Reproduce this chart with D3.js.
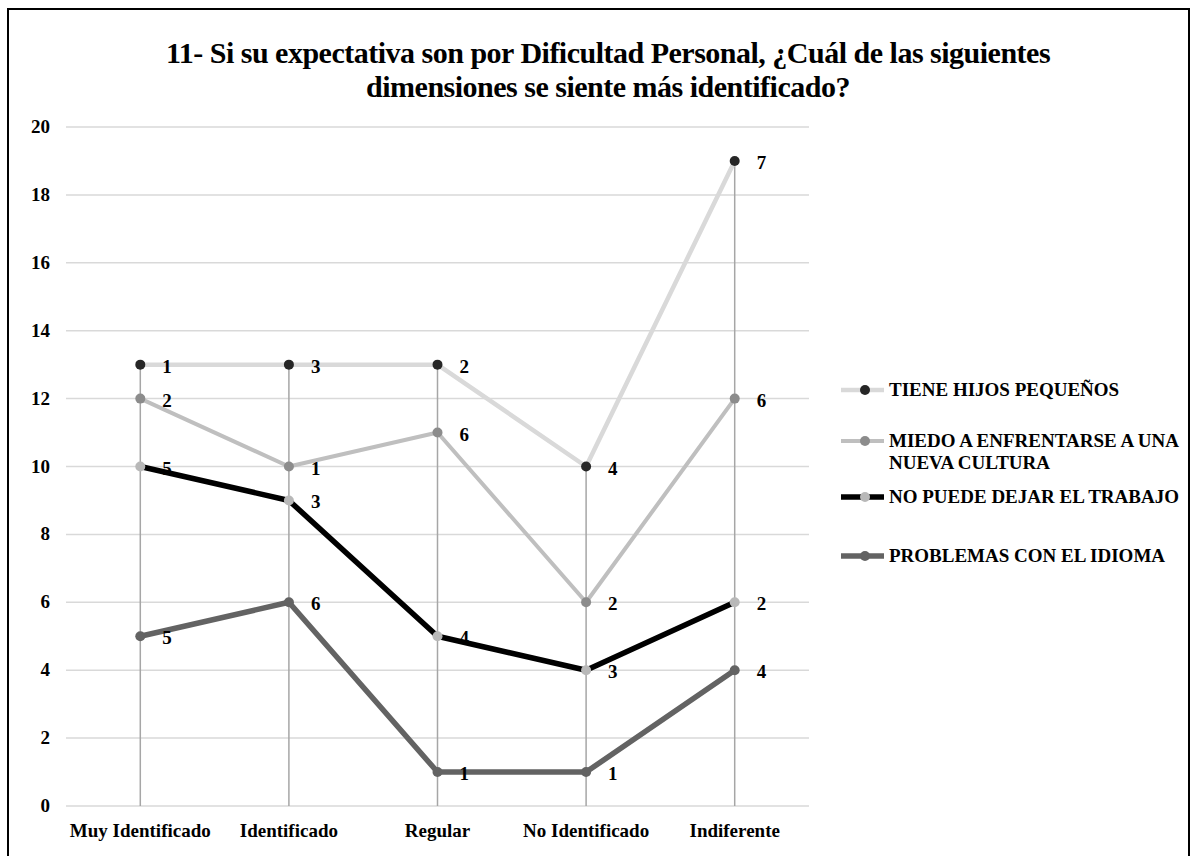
<!DOCTYPE html>
<html><head><meta charset="utf-8">
<script src="https://cdn.jsdelivr.net/npm/d3@7"></script>
<style>body{margin:0;background:#fff}svg{display:block}</style>
</head><body>
<script>
const categories = ["Muy Identificado","Identificado","Regular","No Identificado","Indiferente"];
const seriesNames = ["PROBLEMAS CON EL IDIOMA","NO PUEDE DEJAR EL TRABAJO","MIEDO A ENFRENTARSE A UNA NUEVA CULTURA","TIENE HIJOS PEQUEÑOS"];
const problemasIdioma = [5,6,1,1,4];
const noPuedeDejarTrabajo = [5,3,4,3,2];
const miedoNuevaCultura = [2,1,6,2,6];
const tieneHijos = [1,3,2,4,7];
const yTicks = [0,2,4,6,8,10,12,14,16,18,20];
const legendOrder = [3,2,1,0];

const FONT = "'Liberation Serif','Times New Roman','DejaVu Serif',serif";
const styles = [
  {line:"#636363", marker:"#636363", w:5.5},
  {line:"#000000", marker:"#b8b8b8", w:5.5},
  {line:"#bfbfbf", marker:"#8c8c8c", w:4},
  {line:"#d9d9d9", marker:"#262626", w:4.5}
];
const legendLines = [["TIENE HIJOS PEQUEÑOS"],["MIEDO A ENFRENTARSE A UNA","NUEVA CULTURA"],["NO PUEDE DEJAR EL TRABAJO"],["PROBLEMAS CON EL IDIOMA"]];

const W=1196,H=856;
const svg=d3.select("body").append("svg").attr("width",W).attr("height",H)
  .attr("font-family",FONT).attr("font-weight","bold");
svg.append("rect").attr("x",8).attr("y",9).attr("width",1181).attr("height",870).attr("fill","#fff").attr("stroke","#000").attr("stroke-width",2);

svg.append("text").attr("x",608).attr("y",63).attr("text-anchor","middle").attr("font-size",30).attr("letter-spacing",-0.5).text("11- Si su expectativa son por Dificultad Personal, ¿Cuál de las siguientes");
svg.append("text").attr("x",608).attr("y",97).attr("text-anchor","middle").attr("font-size",30).attr("letter-spacing",-0.5).text("dimensiones se siente más identificado?");

const x=d3.scaleBand().domain(categories).range([66,809]);
const y=d3.scaleLinear().domain([0,20]).range([806,127]);

const table=categories.map((c,i)=>({cat:c,s0:problemasIdioma[i],s1:noPuedeDejarTrabajo[i],s2:miedoNuevaCultura[i],s3:tieneHijos[i]}));
const stacked=d3.stack().keys(["s0","s1","s2","s3"])(table);

svg.append("g").selectAll("line").data(yTicks).join("line")
  .attr("x1",66).attr("x2",809).attr("y1",d=>y(d)).attr("y2",d=>y(d))
  .attr("stroke","#d9d9d9").attr("stroke-width",1.5);
svg.append("g").selectAll("text").data(yTicks).join("text")
  .attr("x",50).attr("y",d=>y(d)+6).attr("text-anchor","end").attr("font-size",19).text(d=>d);
svg.append("g").selectAll("text").data(categories).join("text")
  .attr("x",d=>x(d)+x.bandwidth()/2).attr("y",837).attr("text-anchor","middle").attr("font-size",19).text(d=>d);

const cx=d=>x(d.data.cat)+x.bandwidth()/2;
svg.append("g").selectAll("line").data(stacked[3]).join("line")
  .attr("x1",cx).attr("x2",cx).attr("y1",d=>y(d[1])).attr("y2",y(0))
  .attr("stroke","#a6a6a6").attr("stroke-width",1.5);

const line=d3.line().x(cx).y(d=>y(d[1]));
stacked.forEach((s,i)=>{
  const st=styles[i];
  svg.append("path").datum(s).attr("d",line).attr("fill","none").attr("stroke",st.line).attr("stroke-width",st.w).attr("stroke-linejoin","round");
  svg.append("g").selectAll("circle").data(s).join("circle").attr("cx",cx).attr("cy",d=>y(d[1])).attr("r",5).attr("fill",st.marker);
});
stacked.forEach((s,i)=>{
  svg.append("g").selectAll("text").data(s).join("text")
    .attr("x",d=>cx(d)+22).attr("y",d=>y(d[1])+8).attr("font-size",19).text(d=>d[1]-d[0]);
});

const ly=[390,441,497,556];
legendOrder.forEach((si,k)=>{
  const st=styles[si];
  const g=svg.append("g");
  g.append("line").attr("x1",841).attr("x2",884).attr("y1",ly[k]).attr("y2",ly[k]).attr("stroke",st.line).attr("stroke-width",st.w);
  g.append("circle").attr("cx",865).attr("cy",ly[k]).attr("r",5).attr("fill",st.marker);
  legendLines[k].forEach((t,j)=>g.append("text").attr("x",889).attr("y",ly[k]+6+j*22).attr("font-size",19).text(t));
});
</script>
</body></html>
